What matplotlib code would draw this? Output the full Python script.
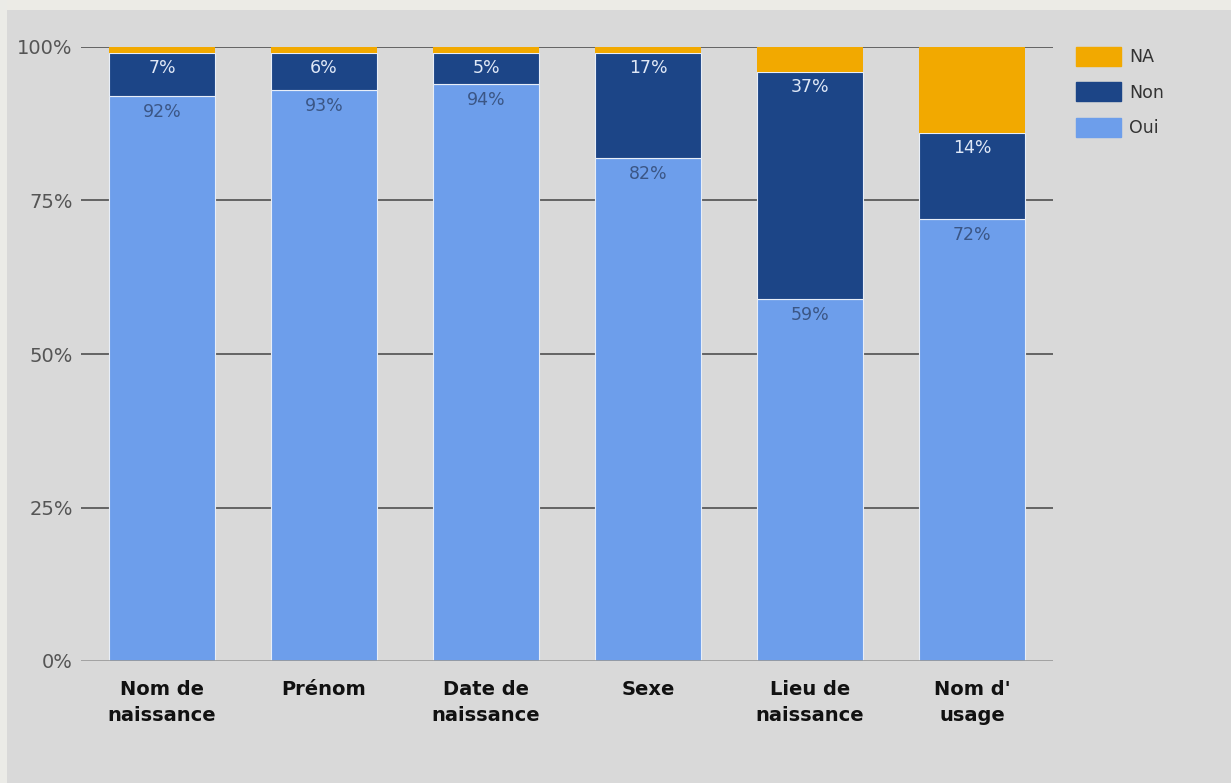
import matplotlib
matplotlib.use("Agg")
import matplotlib.pyplot as plt
import numpy as np
from matplotlib.patches import Rectangle

categories = ["Nom de\nnaissance", "Prénom", "Date de\nnaissance", "Sexe", "Lieu de\nnaissance", "Nom d'\nusage"]
oui = [92, 93, 94, 82, 59, 72]
non = [7, 6, 5, 17, 37, 14]
na = [1, 1, 1, 1, 4, 14]
yticks = [0, 25, 50, 75, 100]
ytick_labels = ["0%", "25%", "50%", "75%", "100%"]

c_oui = "#6d9eeb"
c_non = "#1c4587"
c_na = "#f2a900"
bg = "#d9d9d9"

plt.rcParams['font.family'] = ['DejaVu Sans']

fig = plt.figure(figsize=(12.31, 7.83), dpi=100, facecolor=bg)
# light frame strips at top and left
fig.patches.append(Rectangle((0, 1 - 10/783), 1, 10/783, transform=fig.transFigure,
                             facecolor="#ecebe6", edgecolor="none", zorder=0))
fig.patches.append(Rectangle((0, 0), 7/1231, 1, transform=fig.transFigure,
                             facecolor="#ebebe7", edgecolor="none", zorder=0))

ax = fig.add_axes([81/1231, 1 - 661/783, (1053 - 81)/1231, (661 - 47)/783])
ax.set_facecolor(bg)

x = np.arange(len(categories))
w = 0.65
oui_a = np.array(oui)
non_a = np.array(non)
na_a = np.array(na)

ax.bar(x, oui_a, w, color=c_oui, edgecolor="#e8eef8", linewidth=0.8, zorder=3, label="Oui")
ax.bar(x, non_a, w, bottom=oui_a, color=c_non, edgecolor="#e8eef8", linewidth=0.8, zorder=3, label="Non")
ax.bar(x, na_a, w, bottom=oui_a + non_a, color=c_na, edgecolor="none", linewidth=0, zorder=3, label="NA")

for i in range(len(categories)):
    ax.annotate(f"{oui[i]}%", (x[i], oui[i]), xytext=(0, -16), textcoords="offset pixels",
                ha="center", va="center", fontsize=12.5, color="#3b5685", zorder=5)
    ax.annotate(f"{non[i]}%", (x[i], oui[i] + non[i]), xytext=(0, -15), textcoords="offset pixels",
                ha="center", va="center", fontsize=12.5, color="#dfe8f7", zorder=5)

ax.set_xlim(-0.5, 5.5)
ax.set_ylim(0, 100)
ax.set_yticks(yticks)
ax.set_yticklabels(ytick_labels, fontsize=14, color="#555555")
for yv in yticks[1:]:
    ax.axhline(yv, color="#444444", linewidth=1.1, zorder=2)
ax.axhline(0, color="#999999", linewidth=1.2, zorder=4)

ax.set_xticks(x)
ax.set_xticklabels(categories, fontsize=14, fontweight="bold", color="#111111", linespacing=1.45)
ax.tick_params(axis="x", length=0, pad=14)
ax.tick_params(axis="y", length=0, pad=6)
for s in ax.spines.values():
    s.set_visible(False)

handles = [Rectangle((0, 0), 1, 1, color=c) for c in (c_na, c_non, c_oui)]
leg = fig.legend(handles, ["NA", "Non", "Oui"], loc="upper left",
                 bbox_to_anchor=(1060/1231, 1 - 31/783), frameon=False,
                 fontsize=12.5, handlelength=2.6, handleheight=1.3,
                 labelspacing=0.95, handletextpad=0.5, labelcolor="#333333")

fig.savefig("out.png", dpi=100, facecolor=bg)
